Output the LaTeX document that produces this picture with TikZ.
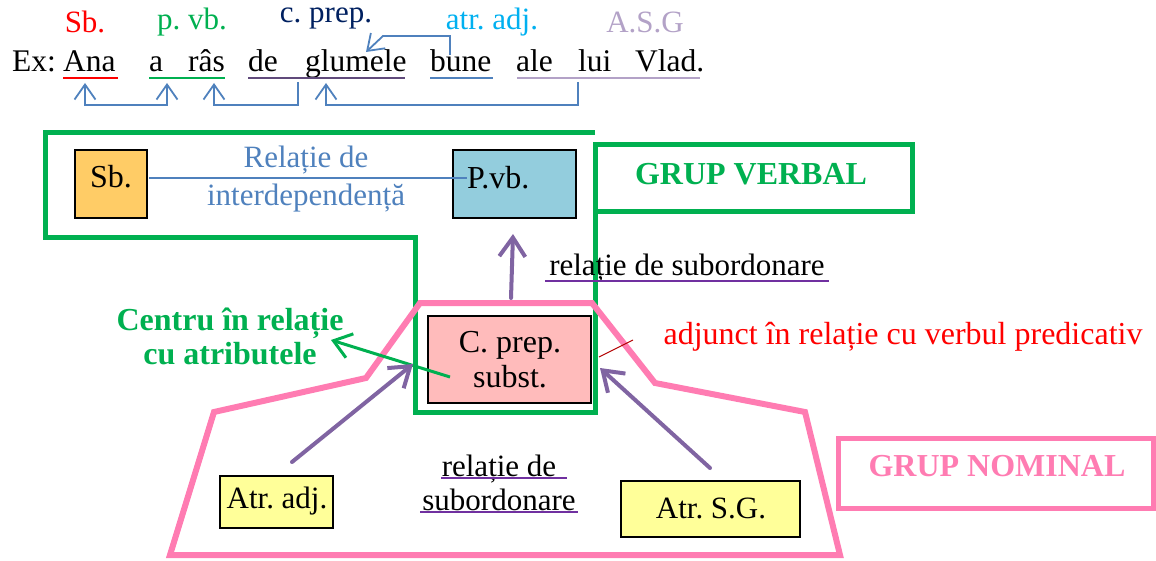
\documentclass[tikz,border=0pt]{standalone}
\usepackage{fontspec}
\setmainfont{Liberation Serif}
\usetikzlibrary{arrows.meta}
\frenchspacing
\definecolor{cRed}{HTML}{FF0000}
\definecolor{cGreen}{HTML}{00B050}
\definecolor{cNavy}{HTML}{002060}
\definecolor{cCyan}{HTML}{00B0F0}
\definecolor{cLav}{HTML}{B3A2C7}
\definecolor{cBlue}{HTML}{4F81BD}
\definecolor{cDPurp}{HTML}{604A7B}
\definecolor{cArr}{HTML}{8064A2}
\definecolor{cUnd}{HTML}{7030A0}
\definecolor{cPink}{HTML}{FF7CB2}
\definecolor{cSb}{HTML}{FFCC66}
\definecolor{cPvb}{HTML}{93CDDD}
\definecolor{cCp}{HTML}{FFBBBB}
\definecolor{cYel}{HTML}{FFFF99}
\newcommand{\fsz}[2]{\fontsize{#1}{#2}\selectfont\frenchspacing}
\tikzset{
  word/.style={font=\fsz{31.5}{36}, inner sep=0pt, anchor=base west},
  toplab/.style={font=\fsz{31}{36}, inner sep=0pt},
  uline/.style={line width=2.5pt},
  bluebarb/.tip={Straight Barb[length=15pt,width=21pt]},
  barb/.style={cBlue, line width=1.8pt, -bluebarb},
  purparrow/.style={cArr, line width=4pt, line cap=round, -{Straight Barb[length=19pt,width=26pt]}},
}
\begin{document}
\begin{tikzpicture}[x=1pt,y=-1pt]
\useasboundingbox (0,0) rectangle (1156,561);
% top labels
\node[toplab, text=cRed] (lsb) at (85,22) {Sb.};
\node[toplab, text=cGreen] (lpvb) at (192,22) {p. vb.};
\node[toplab, text=cNavy] (lcp) at (326,18) {c. prep.};
\node[toplab, text=cCyan] (lad) at (492,22) {atr. adj.};
\node[toplab, text=cLav] (lasg) at (645,22) {A.S.G};
% sentence
\node[word] (wex) at (12,72) {Ex:};
\node[word] (wana) at (63,72) {Ana};
\node[word] (wa) at (149,72) {a};
\node[word] (wras) at (188,72) {râs};
\node[word] (wde) at (248,72) {de};
\node[word] (wglu) at (305,72) {glumele};
\node[word] (wbune) at (430,72) {bune};
\node[word] (wale) at (516,72) {ale};
\node[word] (wlui) at (578,72) {lui};
\node[word] (wvlad) at (635,72) {Vlad.};
% underlines
\draw[uline, cRed] (63,78) -- (118,78);
\draw[uline, cGreen] (149,78) -- (225,78);
\draw[uline, cDPurp] (248,78) -- (405,78);
\draw[uline, cBlue] (430,78) -- (493,78);
\draw[uline, cLav] (517,78) -- (700,78);
% arrows in sentence
\coordinate (t1) at (450,55);
\coordinate (t2) at (450,36);
\coordinate (t3) at (383,36);
\coordinate (t4) at (366,52);
\draw[barb] (t1) -- (t2) -- (t3) -- (t4);
\coordinate (b1) at (85,83);
\coordinate (b2) at (167,83);
\draw[cBlue, line width=1.8pt, bluebarb-bluebarb] (b1) -- (85,105) -- (167,105) -- (b2);
\coordinate (b3) at (298,82);
\coordinate (b4) at (214,83);
\draw[barb] (b3) -- (298,105) -- (214,105) -- (b4);
\coordinate (b5) at (578,82);
\coordinate (b6) at (326,83);
\draw[barb] (b5) -- (578,105) -- (326,105) -- (b6);
% green group
\draw[cGreen, line width=5pt] (595,133) -- (45,133) -- (45,238) -- (415,238) -- (415,412) -- (595,412) -- (595,145) -- (912,145) -- (912,212) -- (595,212);
\node[font=\bfseries\fsz{32}{36}, text=cGreen] (gv) at (751,174) {GRUP VERBAL};
% top boxes
\draw[line width=2pt, fill=cSb] (75,150) rectangle (147,218);
\node[font=\fsz{32}{36}, inner sep=0pt] (sb) at (111,177) {Sb.};
\draw[line width=2pt, fill=cPvb] (453,150) rectangle (576,218);
\node[font=\fsz{32}{36}, inner sep=0pt, anchor=west] (pvb) at (467,178) {P.vb.};
\draw[cBlue, line width=1.3pt] (149,178) -- (pvb.west |- 0,178);
\node[font=\fsz{31}{38}, text=cBlue, align=center] (rel1) at (306,179) {Relație de\\interdependență};
% pink group
\draw[cPink, line width=6pt, line join=miter] (420,303) -- (592,303) -- (655,383) -- (805,412) -- (840,555) -- (170,555) -- (214,412) -- (366,378) -- cycle;
\draw[cPink, line width=5pt] (838,438) rectangle (1153,508);
\node[font=\bfseries\fsz{32}{36}, text=cPink] (gn) at (997,466) {GRUP NOMINAL};
% central box
\draw[line width=2pt, fill=cCp] (428,316) rectangle (591,403);
\node[font=\fsz{32}{35}, align=center, inner sep=0pt] (cp) at (510,360) {C. prep.\\subst.};
\coordinate (cptop) at (511,298);
\draw[purparrow] (cptop) -- (513,234);
\node[font=\fsz{31}{36}, inner sep=0pt] (rs) at (687,268) {relație de subordonare};
\draw[cUnd, line width=2.5pt] (545,281) -- (829,281);
% green arrow
\node[font=\bfseries\fsz{32}{34}, text=cGreen, align=center] (centru) at (230,336) {Centru în relație\\cu atributele};
\coordinate (ga1) at (450,377);
\draw[cGreen, line width=3pt, -{Straight Barb[length=17pt,width=25pt]}] (ga1) -- (331,340);
% adjunct
\coordinate (ad1) at (599,357);
\coordinate (ad2) at (633,340);
\draw[red!70!black, line width=1pt] (ad1) -- (ad2);
\node[font=\fsz{32}{36}, text=cRed, inner sep=0pt] (adj) at (903,337) {adjunct în relație cu verbul predicativ};
% bottom boxes
\draw[line width=2pt, fill=cYel] (220,476) rectangle (333,528);
\node[font=\fsz{31}{36}, inner sep=0pt] (aa) at (277,501) {Atr. adj.};
\draw[line width=2pt, fill=cYel] (621,481) rectangle (800,537);
\node[font=\fsz{31}{36}, inner sep=0pt] (asg) at (711,508) {Atr. S.G.};
\coordinate (pa1) at (292,462);
\coordinate (pa2) at (710,468);
\draw[purparrow] (pa1) -- (413,364);
\draw[purparrow] (pa2) -- (600,368);
\node[font=\fsz{31}{34}, align=center, inner sep=0pt] (rs2) at (499,483) {relație de\\subordonare};
\draw[cUnd, line width=2.5pt] (441,478) -- (567,478);
\draw[cUnd, line width=2.5pt] (420,512) -- (578,512);
\end{tikzpicture}
\end{document}
